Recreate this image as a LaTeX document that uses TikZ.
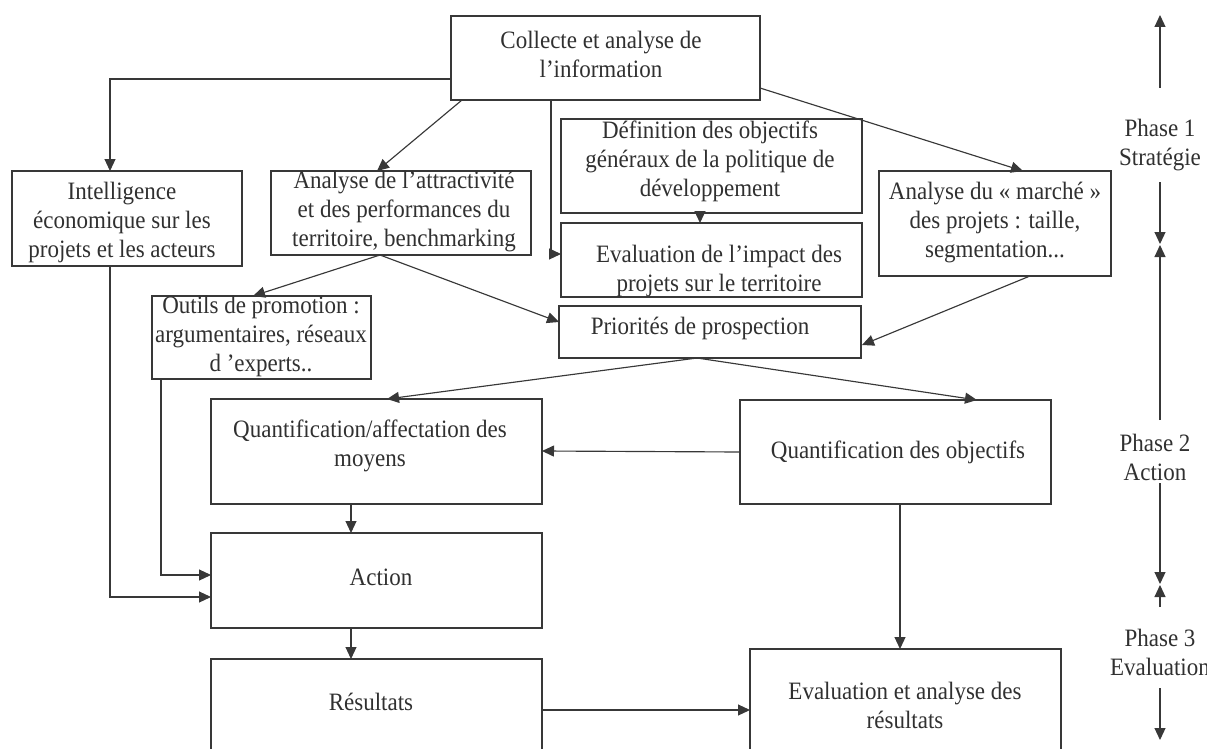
\documentclass[tikz,border=0pt]{standalone}
\usepackage{fontspec}
\setmainfont{Liberation Serif}[FakeStretch=0.92]
\usetikzlibrary{arrows.meta,calc}
\definecolor{lc}{HTML}{383838}
\definecolor{tc}{HTML}{303030}
\begin{document}
\begin{tikzpicture}[x=1pt,y=-1pt,
  box/.style={draw=lc, line width=1.25pt, inner sep=0pt, outer sep=0pt, anchor=north west},
  txt/.style={align=center, text=tc, inner sep=0pt, font=\fontsize{25}{29}\selectfont},
  con/.style={draw=lc, line width=1.15pt, -{Triangle[length=12pt,width=11pt]}}]
\useasboundingbox (0,0) rectangle (1207,749);
\clip (0,0) rectangle (1207,749);
% boxes
\node[box, minimum width=309pt, minimum height=84pt] (coll) at (451,16) {};
\node[box, minimum width=230pt, minimum height=95pt] (intel) at (12,171) {};
\node[box, minimum width=260pt, minimum height=84pt] (attr) at (271,171) {};
\node[box, minimum width=301pt, minimum height=94pt] (defi) at (561,119) {};
\node[box, minimum width=301pt, minimum height=74pt] (evimp) at (561,223) {};
\node[box, minimum width=232pt, minimum height=105pt] (marche) at (879,171) {};
\node[box, minimum width=219pt, minimum height=83pt] (outils) at (152,296) {};
\node[box, minimum width=302pt, minimum height=52pt] (prio) at (559,306) {};
\node[box, minimum width=331pt, minimum height=105pt] (qaff) at (211,399) {};
\node[box, minimum width=311pt, minimum height=104pt] (qobj) at (740,400) {};
\node[box, minimum width=331pt, minimum height=95pt] (action) at (211,533) {};
\node[box, minimum width=331pt, minimum height=110pt] (result) at (211,659) {};
\node[box, minimum width=311pt, minimum height=110pt] (evalr) at (750,649) {};
% texts
\node[txt] (collT) at (601,54) {Collecte et analyse de\\l’information};
\node[txt] (intelT) at (122,222) {Intelligence\\économique sur les\\projets et les acteurs};
\node[txt] (attrT) at (404,212) {Analyse de l’attractivité\\et des performances du\\territoire, benchmarking};
\node[txt] (defiT) at (710,161) {Définition des objectifs\\généraux de la politique de\\développement};
\node[txt] (evimpT) at (719,271) {Evaluation de l’impact des\\projets sur le territoire};
\node[txt] (marcheT) at (995,223) {Analyse du « marché »\\des projets : taille,\\segmentation...};
\node[txt] (outilsT) at (261,336) {Outils de promotion :\\argumentaires, réseaux\\d ’experts..};
\node[txt] (prioT) at (700,328) {Priorités de prospection};
\node[txt] (qaffT) at (370,446) {Quantification/affectation des\\moyens};
\node[txt] (qobjT) at (898,452) {Quantification des objectifs};
\node[txt] (actionT) at (381,577) {Action};
\node[txt] (resultT) at (371,702) {Résultats};
\node[txt] (evalrT) at (905,705) {Evaluation et analyse des\\résultats};
\node[txt] (ph1) at (1160,145) {Phase 1\\Stratégie};
\node[txt] (ph2) at (1155,457) {Phase 2\\Action};
\node[txt] (ph3) at (1160,652) {Phase 3\\Evaluation};
% connectors
\draw[con] ($(coll.north west)+(0,63)$) -| ($(intel.north west)+(98,0)$);
\draw[con] ($(coll.south west)+(11,0)$) -- ($(attr.north west)+(106,0)$);
\draw[con] ($(coll.south west)+(100,0)$) |- ($(evimp.north west)+(0,31)$);
\draw[con] ($(coll.north east)+(0,72)$) -- ($(marche.north west)+(144,0)$);
\draw[con] ($(defi.south west)+(139,0)$) -- ($(evimp.north west)+(139,0)$);
\draw[con] ($(attr.south west)+(109,0)$) -- ($(outils.north west)+(101,0)$);
\draw[con] ($(attr.south west)+(109,0)$) -- ($(prio.north west)+(0,16)$);
\draw[con] ($(marche.south west)+(151,0)$) -- ($(prio.north east)+(1,39)$);
\draw[con] ($(prio.south west)+(138,0)$) -- ($(qaff.north west)+(176,0)$);
\draw[con] ($(prio.south west)+(138,0)$) -- ($(qobj.north west)+(237,0)$);
\draw[con] ($(qobj.north west)+(0,52)$) -- ($(qaff.north east)+(0,52)$);
\draw[con] ($(qaff.south west)+(140,0)$) -- ($(action.north west)+(140,0)$);
\draw[con] ($(outils.south west)+(9,0)$) |- ($(action.north west)+(0,42)$);
\draw[con] ($(intel.south west)+(98,0)$) |- ($(action.north west)+(0,64)$);
\draw[con] ($(action.south west)+(140,0)$) -- ($(result.north west)+(140,0)$);
\draw[con] ($(result.north east)+(0,51)$) -- ($(evalr.north west)+(0,61)$);
\draw[con] ($(qobj.south west)+(160,0)$) -- ($(evalr.north west)+(150,0)$);
% phase axis
\coordinate (a1s) at (1160,88);  \coordinate (a1e) at (1160,15);
\coordinate (a2s) at (1160,182); \coordinate (a2e) at (1160,244);
\coordinate (a3s) at (1160,420); \coordinate (a3e) at (1160,245);
\coordinate (a4s) at (1160,483); \coordinate (a4e) at (1160,584);
\coordinate (a5s) at (1160,607); \coordinate (a5e) at (1160,585);
\coordinate (a6s) at (1160,688); \coordinate (a6e) at (1160,740);
\draw[con] (a1s) -- (a1e);
\draw[con] (a2s) -- (a2e);
\draw[con] (a3s) -- (a3e);
\draw[con] (a4s) -- (a4e);
\draw[con] (a5s) -- (a5e);
\draw[con] (a6s) -- (a6e);
\end{tikzpicture}
\end{document}
